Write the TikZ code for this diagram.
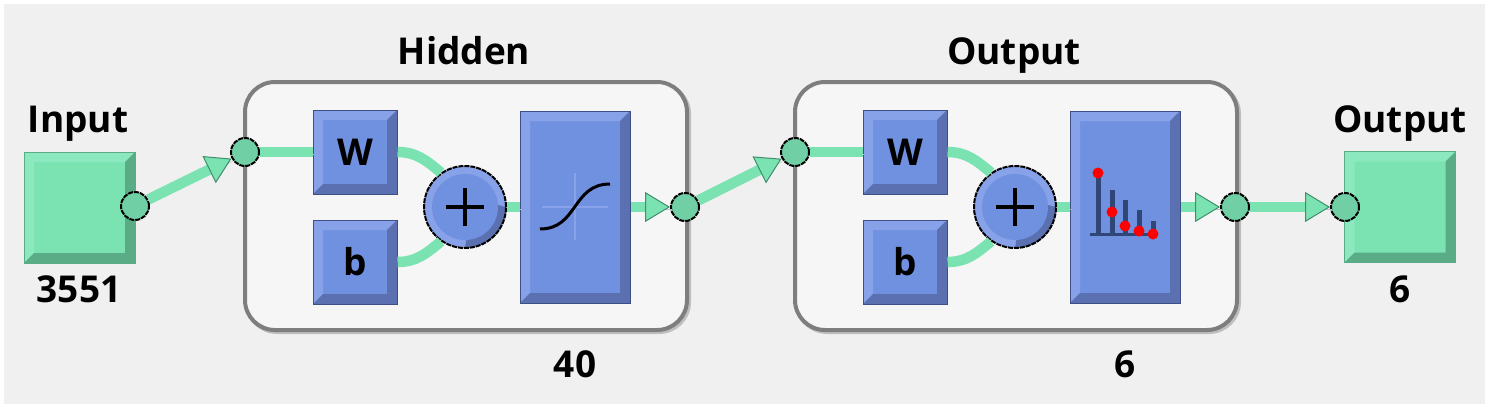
\documentclass[tikz,border=0pt]{standalone}
\usepackage{fontspec}
\setmainfont{Open Sans}
\usepackage{tikz}
\usetikzlibrary{arrows.meta}
\definecolor{panelgray}{HTML}{F0F0F0}
\definecolor{framefill}{HTML}{F6F6F6}
\definecolor{framegray}{HTML}{7E7E7E}
\definecolor{linkgreen}{HTML}{7AE3B1}
\definecolor{lightgreen}{HTML}{8CE8BE}
\definecolor{darkgreen}{HTML}{5AAC86}
\definecolor{tipgreen}{HTML}{3F8F6C}
\definecolor{portgreen}{HTML}{70CFA4}
\definecolor{mainblue}{HTML}{7090E0}
\definecolor{lightblue}{HTML}{88A2EA}
\definecolor{darkblue}{HTML}{5A70B0}
\definecolor{edgeblue}{HTML}{3E4F85}
\definecolor{stemblue}{HTML}{2F4677}
\tikzset{
  bevelled/.style n args={4}{draw=#4, line width=1pt, fill=#1, inner sep=0pt,
    path picture={
      \fill[#2] (path picture bounding box.north west) -- (path picture bounding box.north east)
        -- ([xshift=-10pt,yshift=-10pt]path picture bounding box.north east)
        -- ([xshift=10pt,yshift=-10pt]path picture bounding box.north west)
        -- ([xshift=10pt,yshift=10pt]path picture bounding box.south west)
        -- (path picture bounding box.south west) -- cycle;
      \fill[#3] (path picture bounding box.south east) -- (path picture bounding box.north east)
        -- ([xshift=-10pt,yshift=-10pt]path picture bounding box.north east)
        -- ([xshift=-10pt,yshift=10pt]path picture bounding box.south east)
        -- ([xshift=10pt,yshift=10pt]path picture bounding box.south west)
        -- (path picture bounding box.south west) -- cycle;
    }},
  databox/.style={bevelled={linkgreen}{lightgreen}{darkgreen}{darkgreen}, minimum width=111pt, minimum height=111pt},
  weightbox/.style={bevelled={mainblue}{lightblue}{darkblue}{edgeblue}, minimum width=84pt, minimum height=84pt, font=\fontsize{37}{37}\selectfont\bfseries},
  transferbox/.style={bevelled={mainblue}{lightblue}{darkblue}{edgeblue}, minimum width=110pt, minimum height=192pt},
  layerframe/.style={draw=framegray, line width=4pt, fill=framefill, rounded corners=30pt, inner sep=0pt,
    minimum width=442pt, minimum height=248pt,
    preaction={draw=black!25, fill=none, transform canvas={shift={(2pt,-2pt)}}}},
  port/.style={circle, draw=black, line width=2pt, dash pattern=on 5pt off 1pt, fill=portgreen, inner sep=0pt, minimum size=28pt},
  sumnode/.style={circle, draw=black, line width=2pt, dash pattern=on 5pt off 1pt, fill=lightblue, inner sep=0pt, minimum size=82pt,
    path picture={
      \fill[darkblue] ([xshift=8pt,yshift=8pt]path picture bounding box.center) -- (path picture bounding box.east)
        -- (path picture bounding box.south east) -- (path picture bounding box.south) -- cycle;
      \fill[mainblue] (path picture bounding box.center) circle (33pt);
      \draw[solid, line width=4pt] ([xshift=-19pt]path picture bounding box.center) -- ([xshift=19pt]path picture bounding box.center);
      \draw[solid, line width=4pt] ([yshift=-19pt]path picture bounding box.center) -- ([yshift=19pt]path picture bounding box.center);
    }},
  link/.style={draw=linkgreen, line width=10.5pt,
    preaction={draw=black!25, -, transform canvas={shift={(1.5pt,-2.5pt)}}}},
  linkarrow/.style={link, -{Triangle[length=25pt,width=30pt,fill=linkgreen,color=tipgreen,line width=1pt]}},
  caption/.style={font=\fontsize{37}{37}\selectfont\bfseries, inner sep=0pt, anchor=base}
}
\begin{document}
\begin{tikzpicture}[x=1pt, y=-1pt]
\useasboundingbox (0,0) rectangle (1489,408);
\fill[panelgray] (4,4) rectangle (1485,404);

\node[layerframe] (hiddenframe) at (466,206) {};
\node[layerframe] (outputframe) at (1016,206) {};
\node[databox] (inputbox) at (79.5,207.5) {};
\node[databox] (outputbox) at (1400,207) {};

\node[weightbox] (w1) at (355,152) {W};
\node[weightbox] (b1) at (355,262) {b};
\node[sumnode] (sum1) at (465,207) {};
\node[transferbox] (tansig) at (575,207) {};
\node[weightbox] (w2) at (905,152) {W};
\node[weightbox] (b2) at (905,262) {b};
\node[sumnode] (sum2) at (1015,207) {};
\node[transferbox] (purelin) at (1125,207) {};

\draw[lightblue, line width=2.5pt] (542,207) -- (608,207);
\draw[lightblue, line width=2.5pt] (575,173) -- (575,240);
\draw[black, line width=3pt] (540,229) .. controls (578,229) and (572,184) .. (610,184);

\draw[stemblue, line width=5pt] (1098,173) -- (1098,234);
\draw[stemblue, line width=5pt] (1112,190) -- (1112,234);
\draw[stemblue, line width=5pt] (1125,200) -- (1125,234);
\draw[stemblue, line width=5pt] (1139,210) -- (1139,234);
\draw[stemblue, line width=5pt] (1153,221) -- (1153,234);
\draw[stemblue, line width=3pt] (1090,234) -- (1158,234);
\fill[red] (1098,173) circle (5.5pt);
\fill[red] (1112,212) circle (5.5pt);
\fill[red] (1125,226) circle (5.5pt);
\fill[red] (1139,231) circle (5.5pt);
\fill[red] (1153,234) circle (5.5pt);

\node[port] (inport) at (135,206) {};
\node[port] (hiddenin) at (245,152) {};
\node[port] (hiddenout) at (685,207) {};
\node[port] (outputin) at (795,152) {};
\node[port] (outputout) at (1235,207) {};
\node[port] (outport) at (1345,207) {};

\draw[linkarrow] (inport) -- (hiddenin);
\draw[link] (hiddenin) -- (w1);
\draw[link] (w1.east) to[out=0, in=140] (sum1.125);
\draw[link] (b1.east) to[out=0, in=-140] (sum1.-125);
\draw[link] (sum1) -- (tansig);
\draw[linkarrow] (tansig) -- (hiddenout);
\draw[linkarrow] (hiddenout) -- (outputin);
\draw[link] (outputin) -- (w2);
\draw[link] (w2.east) to[out=0, in=140] (sum2.125);
\draw[link] (b2.east) to[out=0, in=-140] (sum2.-125);
\draw[link] (sum2) -- (purelin);
\draw[linkarrow] (purelin) -- (outputout);
\draw[linkarrow] (outputout) -- (outport);

\node[caption] (inputtitle) at (78,132) {Input};
\node[caption] (inputsize) at (79,302) {3551};
\node[caption] (hiddentitle) at (464,64) {Hidden};
\node[caption] (hiddensize) at (575,377) {40};
\node[caption] (outputtitle) at (1014,64) {Output};
\node[caption] (outputsize) at (1125,377) {6};
\node[caption] (outtitle) at (1400,132) {Output};
\node[caption] (outsize) at (1400,302) {6};
\end{tikzpicture}
\end{document}
